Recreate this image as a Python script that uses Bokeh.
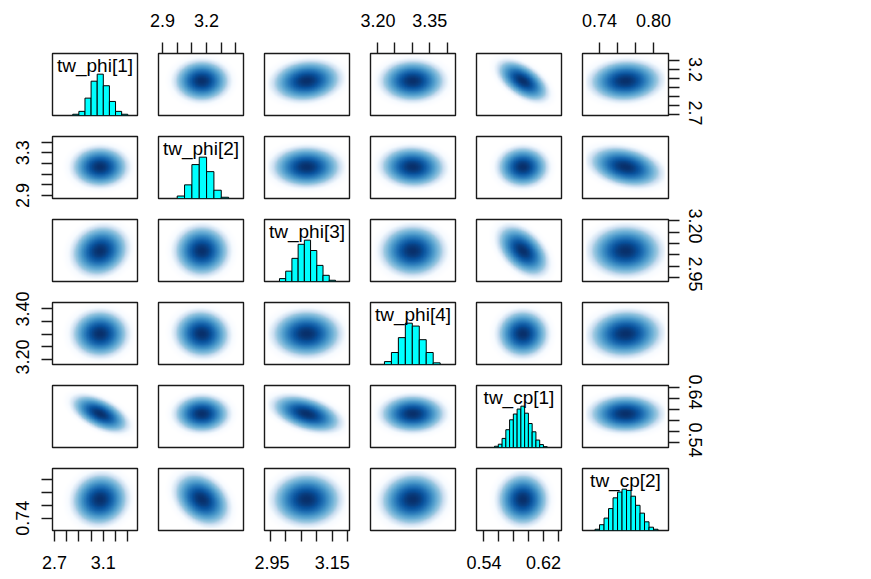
import numpy as np
from bokeh.plotting import figure
from bokeh.layouts import gridplot
from bokeh.models import LinearAxis, FixedTicker, PrintfTickFormatter, Range1d, LinearColorMapper
from bokeh.core.properties import value
from bokeh.embed import file_html
from bokeh.resources import INLINE

# ---- posterior summaries of the six parameters ----
names = ["tw_phi[1]", "tw_phi[2]", "tw_phi[3]", "tw_phi[4]", "tw_cp[1]", "tw_cp[2]"]
post_mean = [3.070, 3.165, 3.066, 3.300, 0.592, 0.7685]
post_sd = [0.075, 0.061, 0.036, 0.030, 0.011, 0.013]
data_min = [2.710, 2.894, 2.942, 3.189, 0.5352, 0.7246]
data_max = [3.354, 3.430, 3.195, 3.415, 0.6398, 0.8131]

# pairwise posterior correlations
corr = [
    [1.00, 0.00, 0.12, 0.00, -0.55, 0.05],
    [0.00, 1.00, 0.00, -0.05, 0.00, -0.30],
    [0.12, 0.00, 1.00, 0.00, -0.45, 0.00],
    [0.00, -0.05, 0.00, 1.00, 0.00, 0.05],
    [-0.55, 0.00, -0.45, 0.00, 1.00, 0.00],
    [0.05, -0.30, 0.00, 0.05, 0.00, 1.00],
]

# marginal histograms (bin edges and bar heights relative to the tallest bar)
hist_breaks = [
    [2.85, 2.90, 2.95, 3.00, 3.05, 3.10, 3.15, 3.20, 3.25, 3.30],
    [3.00, 3.05, 3.10, 3.15, 3.20, 3.25, 3.30, 3.35],
    [2.98, 3.00, 3.02, 3.04, 3.06, 3.08, 3.10, 3.12, 3.14, 3.16],
    [3.22, 3.24, 3.26, 3.28, 3.30, 3.32, 3.34, 3.36, 3.38],
    [0.555, 0.560, 0.565, 0.570, 0.575, 0.580, 0.585, 0.590, 0.595, 0.600,
     0.605, 0.610, 0.615, 0.620, 0.625],
    [0.735, 0.740, 0.745, 0.750, 0.755, 0.760, 0.765, 0.770, 0.775, 0.780,
     0.785, 0.790, 0.795, 0.800, 0.805],
]
hist_counts = [
    [0.03, 0.10, 0.42, 0.83, 1.00, 0.72, 0.34, 0.10, 0.03],
    [0.06, 0.33, 0.82, 1.00, 0.65, 0.20, 0.03],
    [0.07, 0.25, 0.56, 0.90, 1.00, 0.75, 0.39, 0.15, 0.03],
    [0.07, 0.29, 0.65, 1.00, 0.93, 0.60, 0.29, 0.04],
    [0.03, 0.08, 0.22, 0.43, 0.67, 0.81, 0.93, 1.00, 0.83, 0.58, 0.38, 0.18, 0.07, 0.02],
    [0.03, 0.14, 0.30, 0.53, 0.79, 0.93, 1.00, 0.97, 0.83, 0.61, 0.42, 0.21, 0.08, 0.03],
]

# axis ticks, and which of them carry a label on horizontal / vertical axes
ticks = [
    [2.7, 2.8, 2.9, 3.0, 3.1, 3.2, 3.3],
    [2.9, 3.0, 3.1, 3.2, 3.3, 3.4],
    [2.95, 3.00, 3.05, 3.10, 3.15, 3.20],
    [3.20, 3.25, 3.30, 3.35, 3.40],
    [0.54, 0.56, 0.58, 0.60, 0.62, 0.64],
    [0.74, 0.76, 0.78, 0.80],
]
h_labeled = [[2.7, 3.1], [2.9, 3.2], [2.95, 3.15], [3.20, 3.35], [0.54, 0.62], [0.74, 0.80]]
v_labeled = [[2.7, 3.2], [2.9, 3.3], [2.95, 3.20], [3.20, 3.40], [0.54, 0.64], [0.74]]
tick_fmt = ["%.1f", "%.1f", "%.2f", "%.2f", "%.2f", "%.2f"]

# ---- styling ----
FONT = "Liberation Sans"
LINE = "#1a1a1a"
BLUES = ["#FFFFFF", "#F7FBFF", "#DEEBF7", "#C6DBEF", "#9ECAE1", "#6BAED6",
         "#4292C6", "#2171B5", "#08519C", "#08306B"]
STANDOFF = {"above": 16, "below": 14, "left": 12, "right": 9}


def ramp(anchors, n=256):
    rgb = np.array([[int(c[i:i + 2], 16) for i in (1, 3, 5)] for c in anchors], float)
    pos = np.linspace(0, 1, len(anchors))
    t = np.linspace(0, 1, n)
    out = np.stack([np.interp(t, pos, rgb[:, k]) for k in range(3)], axis=1)
    return ["#%02x%02x%02x" % tuple(int(round(v)) for v in row) for row in out]


palette = ramp(BLUES)
NBIN = 128
n = len(names)


def panel_range(i):
    pad = 0.04 * (data_max[i] - data_min[i])
    return data_min[i] - pad, data_max[i] + pad


def density(xi, yi):
    # smoothed density (fourth-root scale) of the posterior draws for one pair,
    # thinning out towards the sparse tails
    xs = np.linspace(data_min[xi], data_max[xi], NBIN)
    ys = np.linspace(data_min[yi], data_max[yi], NBIN)
    X, Y = np.meshgrid(xs, ys)
    zx = (X - post_mean[xi]) / post_sd[xi]
    zy = (Y - post_mean[yi]) / post_sd[yi]
    r = corr[xi][yi]
    d = np.sqrt((zx ** 2 - 2 * r * zx * zy + zy ** 2) / (1 - r ** 2))
    z = np.exp(-d ** 2 / 9.0)
    z *= np.clip((4.1 - d) / 1.4, 0.0, 1.0)
    return z


def add_axis(p, var, side):
    labeled = h_labeled[var] if side in ("above", "below") else v_labeled[var]
    minor = [t for t in ticks[var] if t not in labeled]
    ax = LinearAxis(ticker=FixedTicker(ticks=labeled, minor_ticks=minor),
                    formatter=PrintfTickFormatter(format=tick_fmt[var]))
    ax.axis_line_color = None
    ax.major_tick_in = 0
    ax.major_tick_out = 11
    ax.minor_tick_in = 0
    ax.minor_tick_out = 11
    ax.major_tick_line_color = LINE
    ax.minor_tick_line_color = LINE
    ax.major_tick_line_width = 1.4
    ax.minor_tick_line_width = 1.4
    ax.major_label_text_font = FONT
    ax.major_label_text_font_size = "18px"
    ax.major_label_text_color = "black"
    ax.major_label_standoff = STANDOFF[side]
    if side in ("left", "right"):
        ax.major_label_orientation = "vertical"
    p.add_layout(ax, side)


border_left = [52, 10, 10, 10, 10, 10]
border_right = [11, 11, 11, 11, 11, 60]
frame_w = [85, 85, 85, 85, 85, 86]
border_top = [53, 11, 11, 11, 11, 11]
border_bottom = [10, 10, 10, 10, 10, 49]
frame_h = 62

rows = []
for i in range(n):
    row = []
    for j in range(n):
        xr = Range1d(*panel_range(j))
        yr = Range1d(0, 1.5) if i == j else Range1d(*panel_range(i))
        p = figure(width=border_left[j] + frame_w[j] + border_right[j],
                   height=border_top[i] + frame_h + border_bottom[i],
                   x_range=xr, y_range=yr, title=None,
                   x_axis_location=None, y_axis_location=None,
                   toolbar_location=None, tools="", output_backend="svg",
                   min_border_left=border_left[j], min_border_right=border_right[j],
                   min_border_top=border_top[i], min_border_bottom=border_bottom[i])
        p.xgrid.visible = False
        p.ygrid.visible = False
        p.background_fill_color = "white"
        p.border_fill_color = "white"
        p.outline_line_color = LINE
        p.outline_line_width = 1.4

        if i == j:
            br = hist_breaks[i]
            cnt = np.array(hist_counts[i], float)
            p.quad(left=br[:-1], right=br[1:], bottom=0, top=list(cnt / cnt.max()),
                   fill_color="#00FFFF", line_color="black", line_width=1)
            x0, x1 = panel_range(i)
            p.text(x=[(x0 + x1) / 2], y=[1.22], text=[names[i]],
                   text_font=value(FONT), text_font_size="19px",
                   text_align="center", text_baseline="middle", text_color="black")
        else:
            mapper = LinearColorMapper(palette=palette, low=0, high=1)
            p.image(image=[density(j, i)], x=data_min[j], y=data_min[i],
                    dw=data_max[j] - data_min[j], dh=data_max[i] - data_min[i],
                    color_mapper=mapper)

        if i == 0 and j % 2 == 1:
            add_axis(p, j, "above")
        if i == n - 1 and j % 2 == 0:
            add_axis(p, j, "below")
        if j == 0 and i % 2 == 1:
            add_axis(p, i, "left")
        if j == n - 1 and i % 2 == 0:
            add_axis(p, i, "right")
        row.append(p)
    rows.append(row)

grid = gridplot(rows, toolbar_location=None)
open("out.html", "w").write(file_html(grid, INLINE))
